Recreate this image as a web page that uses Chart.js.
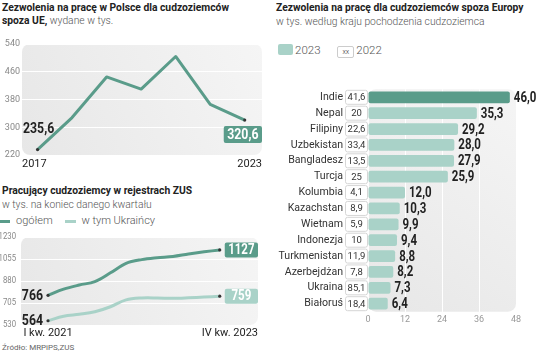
<!DOCTYPE html>
<html>
<head>
<meta charset="utf-8">
<script src="https://cdn.jsdelivr.net/npm/chart.js@4.4.0/dist/chart.umd.min.js"></script>
<style>
  html, body { margin: 0; padding: 0; background: #fff; }
  body { width: 536px; height: 363px; position: relative; overflow: hidden; font-family: Roboto, sans-serif; color: #222; }
  .abs { position: absolute; }
  .tit { font-weight: bold; font-size: 10.3px; line-height: 13px; color: #222; white-space: nowrap; }
  .sub { font-weight: 300; font-size: 10.3px; color: #555; white-space: nowrap; }
  .leg { font-size: 11px; color: #555; font-weight: 300; white-space: nowrap; }
  canvas { position: absolute; }
</style>
</head>
<body>
<!-- naglowki -->
<div class="abs tit" style="left:2px;top:1px;">Zezwolenia na pracę w Polsce dla cudzoziemców<br>spoza UE, <span class="sub">wydane w tys.</span></div>
<div class="abs tit" style="left:2px;top:184px;">Pracujący cudzoziemcy w rejestrach ZUS</div>
<div class="abs sub" style="left:2px;top:198px;">w tys. na koniec danego kwartału</div>
<div class="abs leg" style="left:0;top:214px;">
  <span style="display:inline-block;width:10px;height:3px;background:#5a9c8a;vertical-align:middle;margin-right:6px"></span>ogółem
  <span style="display:inline-block;width:11px;height:3px;background:#a9d2c8;vertical-align:middle;margin:0 5px 0 10px"></span>w tym Ukraińcy
</div>
<div class="abs" style="left:2px;top:343px;font-size:8px;color:#666;">Źródło: MRPiPS,ZUS</div>

<div class="abs tit" style="left:276px;top:1px;">Zezwolenia na pracę dla cudzoziemców spoza Europy</div>
<div class="abs sub" style="left:276px;top:15px;">w tys. według kraju pochodzenia cudzoziemca</div>
<div class="abs leg" style="left:278px;top:43px;font-size:11.5px">
  <span style="display:inline-block;width:15px;height:11px;background:#a9d2c8;border-radius:2px;vertical-align:-1px;margin-right:2px"></span>2023
  <span style="display:inline-block;width:15px;height:10px;border:1px solid #ccc;border-radius:2px;font-size:7px;line-height:10px;text-align:center;vertical-align:0;margin:0 2px 0 14px;color:#333">xx</span>2022
</div>

<canvas id="permitChart" style="left:0;top:36px" width="270" height="136"></canvas>
<canvas id="zusChart" style="left:0;top:230px" width="270" height="115"></canvas>
<canvas id="countryChart" style="left:270px;top:58px" width="266" height="285"></canvas>

<script>
// dane - zezwolenia ogolem
const lata = ['2017', '2018', '2019', '2020', '2021', '2022', '2023'];
const zezwolenia = [235.6, 328, 445, 410, 504, 366, 320.6];
const ticksZezw = [220, 300, 380, 460, 540];

// dane - ZUS
const kwartaly = ['I kw. 2021', 'II kw. 2021', 'III kw. 2021', 'IV kw. 2021',
  'I kw. 2022', 'II kw. 2022', 'III kw. 2022', 'IV kw. 2022',
  'I kw. 2023', 'II kw. 2023', 'III kw. 2023', 'IV kw. 2023'];
const ogolem = [766, 815, 848, 875, 945, 1020, 1050, 1065, 1075, 1095, 1112, 1127];
const ukraincy = [564, 600, 615, 635, 675, 730, 745, 745, 742, 746, 752, 759];
const ticksZus = [530, 705, 880, 1055, 1230];

// dane - kraje
const kraje = ['Indie', 'Nepal', 'Filipiny', 'Uzbekistan', 'Bangladesz', 'Turcja', 'Kolumbia',
  'Kazachstan', 'Wietnam', 'Indonezja', 'Turkmenistan', 'Azerbejdżan', 'Ukraina', 'Białoruś'];
const wart2023 = [46.0, 35.3, 29.2, 28.0, 27.9, 25.9, 12.0, 10.3, 9.9, 9.4, 8.8, 8.2, 7.3, 6.4];
const wart2022 = [41.6, 20, 22.6, 33.4, 13.5, 25, 4.1, 8.9, 5.9, 10, 11.9, 7.8, 85.1, 18.4];
const ticksKraje = [0, 12, 24, 36, 48];

const ciemny = '#5a9c8a';
const jasny = '#a9d2c8';
const SX = 0.82; // zwezenie cyfr (brak fontu condensed)
const pl = v => String(v).replace('.', ',');

function rrect(ctx, x, y, w, h, r) {
  ctx.beginPath();
  ctx.roundRect(x, y, w, h, r);
}

// tekst zwezony w poziomie
function narrowText(ctx, s, x, y, align, sx) {
  ctx.save();
  ctx.translate(x, y);
  ctx.scale(sx || SX, 1);
  ctx.textAlign = align;
  ctx.fillText(s, 0, 0);
  ctx.restore();
}
const narrowWidth = (ctx, s) => ctx.measureText(s).width * SX;

// szare tlo pod wykresem
function panelPlugin(extraTop) {
  return {
    id: 'panel',
    beforeDraw(chart) {
      const { ctx, chartArea: a } = chart;
      const g = ctx.createLinearGradient(a.left, a.bottom, a.right, a.top);
      g.addColorStop(0, '#e7e7e7');
      g.addColorStop(1, '#f5f5f5');
      ctx.save();
      ctx.fillStyle = g;
      rrect(ctx, a.left, a.top - extraTop, a.right - a.left, a.bottom - a.top + extraTop, 8);
      ctx.fill();
      ctx.restore();
    }
  };
}

// wykres 1
new Chart(document.getElementById('permitChart'), {
  type: 'line',
  data: {
    datasets: [{
      data: zezwolenia.map((v, i) => ({ x: i, y: v })),
      borderColor: ciemny,
      borderWidth: 3,
      tension: 0,
      borderJoinStyle: 'round',
      pointRadius: c => (c.dataIndex === 0 || c.dataIndex === zezwolenia.length - 1) ? 1.6 : 0,
      pointBackgroundColor: '#333',
      pointBorderWidth: 0
    }]
  },
  options: {
    responsive: false,
    animation: false,
    layout: { padding: { top: 8, right: 8, bottom: 17, left: 0 } },
    plugins: { legend: { display: false }, tooltip: { enabled: false } },
    scales: {
      x: { type: 'linear', min: -0.45, max: 6.5, display: false },
      y: {
        min: ticksZezw[0], max: ticksZezw[ticksZezw.length - 1],
        afterBuildTicks: s => { s.ticks = ticksZezw.map(v => ({ value: v })); },
        afterFit: s => { s.width = 22; },
        ticks: { color: '#888', font: { family: 'Roboto', size: 9 }, padding: 2 },
        grid: { color: '#fff', lineWidth: 1, drawTicks: false },
        border: { display: false }
      }
    }
  },
  plugins: [panelPlugin(0), {
    id: 'labels1',
    afterDatasetsDraw(chart) {
      const { ctx, chartArea: a } = chart;
      const pts = chart.getDatasetMeta(0).data;
      const first = pts[0], last = pts[pts.length - 1];
      ctx.save();
      ctx.font = '11px Roboto';
      ctx.fillStyle = '#222';
      ctx.textBaseline = 'middle';
      ctx.textAlign = 'left';
      ctx.fillText(lata[0], a.left, a.bottom + 9);
      ctx.textAlign = 'right';
      ctx.fillText(lata[lata.length - 1], a.right, a.bottom + 9);
      // wartosci skrajne
      ctx.font = 'bold 15px Roboto';
      ctx.textBaseline = 'alphabetic';
      narrowText(ctx, pl(zezwolenia[0].toFixed(1)), a.left + 1, first.y - 17, 'left');
      const txt = pl(zezwolenia[zezwolenia.length - 1].toFixed(1));
      const w = narrowWidth(ctx, txt) + 7;
      ctx.fillStyle = ciemny;
      rrect(ctx, a.right - w, last.y + 6, w, 17, 2);
      ctx.fill();
      ctx.fillStyle = '#fff';
      ctx.textBaseline = 'middle';
      narrowText(ctx, txt, a.right - w / 2, last.y + 15, 'center');
      ctx.restore();
    }
  }]
});

// wykres 2
const endDot = arr => c => (c.dataIndex === 0 || c.dataIndex === arr.length - 1) ? 1.6 : 0;
new Chart(document.getElementById('zusChart'), {
  type: 'line',
  data: {
    datasets: [{
      data: ogolem.map((v, i) => ({ x: i, y: v })),
      borderColor: ciemny,
      borderWidth: 3,
      tension: 0.35,
      pointRadius: endDot(ogolem),
      pointBackgroundColor: '#333',
      pointBorderWidth: 0
    }, {
      data: ukraincy.map((v, i) => ({ x: i, y: v })),
      borderColor: jasny,
      borderWidth: 3,
      tension: 0.35,
      pointRadius: endDot(ukraincy),
      pointBackgroundColor: '#333',
      pointBorderWidth: 0
    }]
  },
  options: {
    responsive: false,
    animation: false,
    layout: { padding: { top: 7, right: 12, bottom: 20, left: 0 } },
    plugins: { legend: { display: false }, tooltip: { enabled: false } },
    scales: {
      x: { type: 'linear', min: -1.73, max: 13.45, display: false },
      y: {
        min: ticksZus[0], max: ticksZus[ticksZus.length - 1],
        afterBuildTicks: s => { s.ticks = ticksZus.map(v => ({ value: v })); },
        afterFit: s => { s.width = 21; },
        ticks: { display: false },
        grid: { color: '#fff', lineWidth: 1, drawTicks: false },
        border: { display: false }
      }
    }
  },
  plugins: [panelPlugin(0), {
    id: 'labels2',
    afterDatasetsDraw(chart) {
      const { ctx, chartArea: a } = chart;
      ctx.save();
      // opisy osi Y (wezsze, zeby 1230 sie miescilo)
      ctx.font = '9px Roboto';
      ctx.fillStyle = '#888';
      ctx.textBaseline = 'middle';
      ticksZus.forEach(v => {
        narrowText(ctx, String(v), a.left - 5, chart.scales.y.getPixelForValue(v), 'right', 0.86);
      });
      ctx.font = '11px Roboto';
      ctx.fillStyle = '#222';
      const p0 = chart.getDatasetMeta(0).data;
      ctx.textAlign = 'center';
      ctx.fillText(kwartaly[0], p0[0].x, a.bottom + 8);
      ctx.textAlign = 'right';
      ctx.fillText(kwartaly[kwartaly.length - 1], a.right, a.bottom + 8);
      [[ogolem, ciemny], [ukraincy, jasny]].forEach(([arr, col], di) => {
        const pts = chart.getDatasetMeta(di).data;
        const f = pts[0], l = pts[pts.length - 1];
        ctx.font = 'bold 15px Roboto';
        ctx.fillStyle = '#222';
        ctx.textBaseline = 'middle';
        narrowText(ctx, String(arr[0]), f.x - 5, f.y + 1, 'right');
        const txt = String(arr[arr.length - 1]);
        ctx.fillStyle = col;
        rrect(ctx, l.x + 5, l.y - 7.5, a.right - l.x - 5, 15, 2);
        ctx.fill();
        ctx.fillStyle = '#fff';
        ctx.font = 'bold 14px Roboto';
        narrowText(ctx, txt, (l.x + 5 + a.right) / 2, l.y + 0.5, 'center');
      });
      ctx.restore();
    }
  }]
});

// wykres 3
new Chart(document.getElementById('countryChart'), {
  type: 'bar',
  data: {
    labels: kraje,
    datasets: [{
      data: wart2023,
      backgroundColor: wart2023.map((v, i) => i === 0 ? ciemny : jasny),
      borderRadius: 2,
      borderSkipped: false,
      barPercentage: 0.74,
      categoryPercentage: 1
    }]
  },
  options: {
    indexAxis: 'y',
    responsive: false,
    animation: false,
    layout: { padding: { top: 9.6, right: 20, bottom: 0, left: 0 } },
    plugins: { legend: { display: false }, tooltip: { enabled: false } },
    scales: {
      x: {
        min: ticksKraje[0], max: ticksKraje[ticksKraje.length - 1],
        afterBuildTicks: s => { s.ticks = ticksKraje.map(v => ({ value: v })); },
        afterFit: s => { s.height = 14; },
        ticks: { color: '#999', font: { family: 'Roboto', size: 9 }, padding: 3 },
        grid: { color: '#fff', lineWidth: 1, drawTicks: false },
        border: { display: false }
      },
      y: {
        afterFit: s => { s.width = 98; },
        ticks: { color: '#333', font: { family: 'Roboto', size: 10.6 }, padding: 25, autoSkip: false },
        grid: { display: false, drawTicks: false },
        border: { display: false }
      }
    }
  },
  plugins: [panelPlugin(0), {
    id: 'labels3',
    afterDatasetsDraw(chart) {
      const { ctx, chartArea: a } = chart;
      const ys = chart.scales.y;
      const bars = chart.getDatasetMeta(0).data;
      ctx.save();
      kraje.forEach((k, i) => {
        const y = ys.getPixelForValue(i);
        // ramka 2022
        ctx.fillStyle = '#fff';
        ctx.strokeStyle = '#d6d6d6';
        ctx.lineWidth = 1;
        rrect(ctx, a.left - 22.5, y - 7, 22, 14, 2);
        ctx.fill();
        ctx.stroke();
        ctx.fillStyle = '#333';
        ctx.font = '9.5px Roboto';
        ctx.textBaseline = 'middle';
        ctx.textAlign = 'center';
        ctx.fillText(pl(wart2022[i]), a.left - 11.5, y + 0.5);
        // wartosc 2023
        ctx.font = 'bold 14px Roboto';
        ctx.fillStyle = '#222';
        narrowText(ctx, pl(wart2023[i].toFixed(1)), bars[i].x + 4, y + 1, 'left');
      });
      ctx.restore();
    }
  }]
});
</script>
</body>
</html>
